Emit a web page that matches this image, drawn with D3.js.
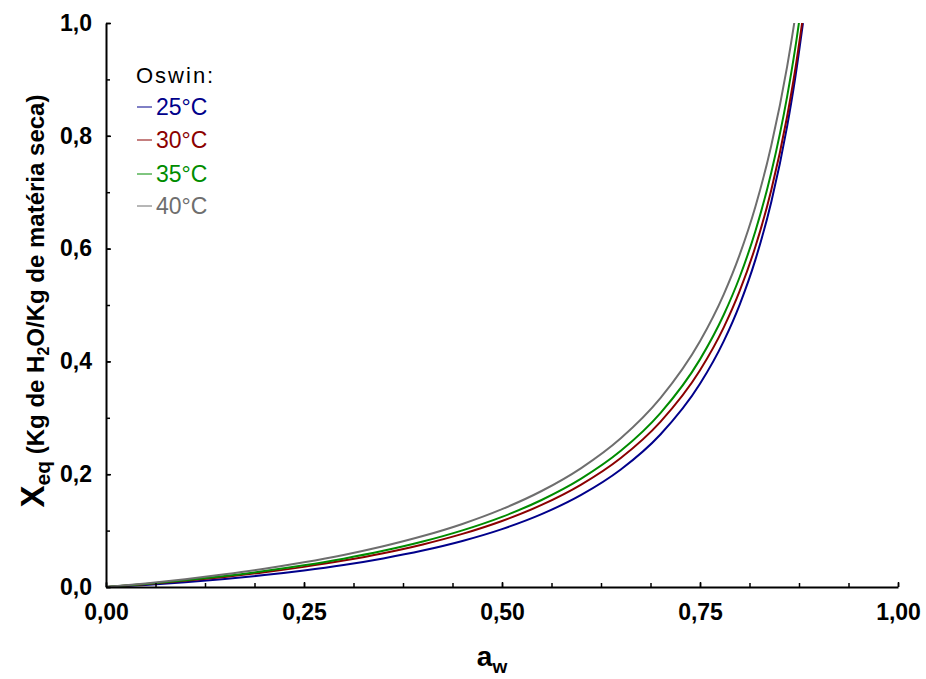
<!DOCTYPE html>
<html>
<head>
<meta charset="utf-8">
<script src="https://cdn.jsdelivr.net/npm/d3@7"></script>
<style>
  body { margin: 0; background: #fff; }
  svg text { font-family: "Liberation Sans", Arial, sans-serif; }
</style>
</head>
<body>
<div id="chart"></div>
<script>
// Water activity (x) and equilibrium moisture per temperature
const aw = [0, 0.05, 0.10, 0.15, 0.20, 0.25, 0.30, 0.35, 0.40, 0.45, 0.50, 0.55,
  0.60, 0.65, 0.70, 0.75, 0.78, 0.80, 0.82, 0.84, 0.86, 0.87, 0.88];
const x25 = [0, 0.0036, 0.0084, 0.0142, 0.0211, 0.0293, 0.0390, 0.0507, 0.0647, 0.0817, 0.1027, 0.1292,
  0.1633, 0.2083, 0.2704, 0.3603, 0.4360, 0.5004, 0.5805, 0.6826, 0.8168, 0.9007, 1.0000];
const x30 = [0, 0.0049, 0.0109, 0.0179, 0.0261, 0.0357, 0.0468, 0.0599, 0.0755, 0.0942, 0.1171, 0.1455,
  0.1816, 0.2287, 0.2928, 0.3842, 0.4603, 0.5245, 0.6037, 0.7038, 0.8343, 0.9153, 1.0105];
const x35 = [0, 0.0053, 0.0118, 0.0194, 0.0282, 0.0384, 0.0502, 0.0641, 0.0806, 0.1004, 0.1244, 0.1543,
  0.1921, 0.2414, 0.3083, 0.4036, 0.4827, 0.5492, 0.6313, 0.7349, 0.8695, 0.9531, 1.0512];
const x40 = [0, 0.0063, 0.0138, 0.0225, 0.0323, 0.0437, 0.0568, 0.0722, 0.0903, 0.1118, 0.1380, 0.1702,
  0.2109, 0.2637, 0.3349, 0.4357, 0.5190, 0.5889, 0.6747, 0.7827, 0.9227, 1.0092, 1.1106];

const seriesNames = ['25°C', '30°C', '35°C', '40°C'];
const seriesColors = ['#00008b', '#8b0000', '#008c00', '#6e6e6e'];
const seriesValues = [x25, x30, x35, x40];

const xMajorTicks = [0, 0.25, 0.5, 0.75, 1];
const xTickLabels = ['0,00', '0,25', '0,50', '0,75', '1,00'];
const yMajorTicks = [0, 0.2, 0.4, 0.6, 0.8, 1];
const yTickLabels = ['0,0', '0,2', '0,4', '0,6', '0,8', '1,0'];

const width = 926, height = 679;
const plot = { left: 106, right: 898, top: 23, bottom: 587 };

const svg = d3.select('#chart').append('svg')
  .attr('width', width)
  .attr('height', height);

const x = d3.scaleLinear().domain([0, 1]).range([plot.left, plot.right]);
const y = d3.scaleLinear().domain([0, 1]).range([plot.bottom, plot.top]);

svg.append('clipPath').attr('id', 'clip')
  .append('rect')
  .attr('x', plot.left).attr('y', plot.top)
  .attr('width', plot.right - plot.left).attr('height', plot.bottom - plot.top);

// Curves
const line = d3.line()
  .x(d => x(d[0]))
  .y(d => y(d[1]))
  .curve(d3.curveMonotoneX);

const curves = svg.append('g').attr('clip-path', 'url(#clip)');
seriesValues.forEach((vals, i) => {
  curves.append('path')
    .datum(aw.map((a, j) => [a, vals[j]]))
    .attr('fill', 'none')
    .attr('stroke', seriesColors[i])
    .attr('stroke-width', 2)
    .attr('d', line);
});

// X axis: minor ticks every 1/16, labels at quarters
const xMinor = d3.range(0, 17).map(i => i / 16);
svg.append('g')
  .attr('transform', `translate(0,${plot.bottom})`)
  .call(d3.axisBottom(x).tickValues(xMinor).tickSize(-4).tickSizeOuter(0).tickFormat(''))
  .call(g => g.select('.domain').attr('stroke-width', 2))
  .call(g => g.selectAll('.tick line').attr('stroke-width', 1.5));

svg.append('g')
  .attr('transform', `translate(0,${plot.bottom})`)
  .call(d3.axisBottom(x).tickValues(xMajorTicks).tickSize(-5).tickSizeOuter(0)
    .tickPadding(17).tickFormat((d, i) => xTickLabels[i]))
  .call(g => g.select('.domain').remove())
  .call(g => g.selectAll('.tick line').attr('stroke-width', 1.5))
  .call(g => g.selectAll('text')
    .attr('font-size', 23).attr('font-weight', 'bold').attr('fill', '#000')
    .style('font-family', '"Liberation Sans", Arial, sans-serif'));

// Y axis: minor ticks every 0.1
const yMinor = d3.range(0, 11).map(i => i / 10);
svg.append('g')
  .attr('transform', `translate(${plot.left},0)`)
  .call(d3.axisLeft(y).tickValues(yMinor).tickSize(-4).tickSizeOuter(0).tickFormat(''))
  .call(g => g.select('.domain').attr('stroke-width', 2))
  .call(g => g.selectAll('.tick line').attr('stroke-width', 1.5));

svg.append('g')
  .attr('transform', `translate(${plot.left},0)`)
  .call(d3.axisLeft(y).tickValues(yMajorTicks).tickSize(-5).tickSizeOuter(0)
    .tickPadding(14).tickFormat((d, i) => yTickLabels[i]))
  .call(g => g.select('.domain').remove())
  .call(g => g.selectAll('.tick line').attr('stroke-width', 1.5))
  .call(g => g.selectAll('text')
    .attr('font-size', 23).attr('font-weight', 'bold').attr('fill', '#000')
    .style('font-family', '"Liberation Sans", Arial, sans-serif'));

// Axis titles
const xt = svg.append('text')
  .attr('x', 492).attr('y', 666)
  .attr('text-anchor', 'middle')
  .attr('font-weight', 'bold');
xt.append('tspan').attr('font-size', 28).text('a');
xt.append('tspan').attr('font-size', 19).attr('dy', 7).text('w');

const yt = svg.append('text')
  .attr('transform', 'translate(44,301) rotate(-90)')
  .attr('text-anchor', 'middle')
  .attr('font-weight', 'bold');
yt.append('tspan').attr('font-size', 33).text('X');
yt.append('tspan').attr('font-size', 21).attr('dy', 6).text('eq');
yt.append('tspan').attr('font-size', 24).attr('dy', -6).text(' (Kg de H');
yt.append('tspan').attr('font-size', 16).attr('dy', 5).text('2');
yt.append('tspan').attr('font-size', 24).attr('dy', -5).text('O/Kg de matéria seca)');

// Legend
const legend = svg.append('g');
legend.append('text')
  .attr('x', 136).attr('y', 83)
  .attr('font-size', 22)
  .attr('letter-spacing', 2)
  .attr('fill', '#000')
  .text('Oswin:');

const rowY = [107, 140, 174, 206];
seriesNames.forEach((name, i) => {
  legend.append('line')
    .attr('x1', 137).attr('x2', 152)
    .attr('y1', rowY[i]).attr('y2', rowY[i])
    .attr('stroke', seriesColors[i])
    .attr('stroke-width', 1);
  legend.append('text')
    .attr('x', 156).attr('y', rowY[i] + 8)
    .attr('font-size', 23)
    .attr('fill', seriesColors[i])
    .text(name);
});
</script>
</body>
</html>
